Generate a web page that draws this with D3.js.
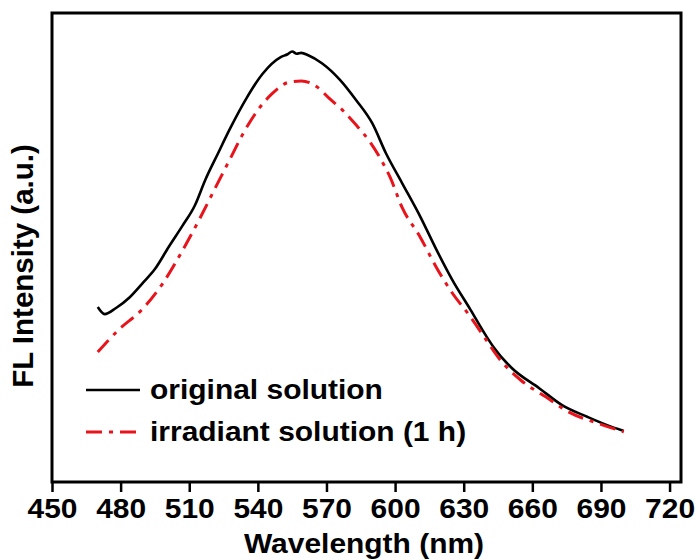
<!DOCTYPE html>
<html>
<head>
<meta charset="utf-8">
<script src="https://cdn.jsdelivr.net/npm/d3@7"></script>
<style>
  body { margin: 0; background: #fff; }
  svg text { font-family: "Liberation Sans", Arial, sans-serif; font-weight: bold; fill: #000; }
</style>
</head>
<body>
<svg id="chart" width="697" height="560"></svg>
<script>
// wavelength (nm) and FL intensity (a.u.)
const originalWl = [470, 473, 478, 484, 490, 495, 501, 507, 512.5, 517, 522.5, 528, 535, 542, 550, 553, 555, 557, 559, 562, 568, 576, 583, 590, 596, 603, 611, 618, 625, 633, 640, 643, 651, 663, 673, 684, 695, 700];
const originalFL = [37.3, 35.8, 37.1, 39.4, 42.6, 45.4, 50.1, 54.6, 59.0, 64.4, 70.0, 75.5, 81.8, 87.0, 90.6, 91.2, 91.8, 91.3, 91.5, 91.0, 89.3, 85.7, 81.4, 76.5, 70.1, 63.8, 56.6, 49.6, 43.1, 36.7, 31.0, 28.8, 24.3, 20.0, 16.4, 13.9, 11.7, 10.9];

const irradiantWl = [470, 479, 490, 498.5, 507, 514, 522, 528.6, 533, 540, 546, 554, 559, 566, 571, 577, 583, 589, 594, 598, 603, 611, 618, 625, 633, 639, 646, 655, 666, 676, 688, 700];
const irradiantFL = [27.7, 32.4, 37.1, 42.4, 49.3, 55.6, 63.3, 69.6, 73.8, 79.3, 82.7, 85.3, 85.5, 84.2, 81.9, 79.3, 76.1, 72.5, 68.6, 64.8, 58.6, 52.2, 45.8, 40.3, 35.2, 30.9, 26.0, 21.7, 18.1, 14.9, 12.6, 10.7];

const xTicks = [450, 480, 510, 540, 570, 600, 630, 660, 690, 720];
const legendLabels = ["original solution", "irradiant solution (1 h)"];

const svg = d3.select("#chart");
const margin = { top: 13, right: 16, bottom: 78, left: 52 };
const W = 697, H = 560;
const stretch = "scale(1.07,1)";

const x = d3.scaleLinear().domain([450, 725]).range([margin.left, W - margin.right]);
const y = d3.scaleLinear().domain([0, 100]).range([H - margin.bottom, margin.top]);

// bottom axis with ticks
const xAxis = svg.append("g")
  .attr("transform", `translate(0,${H - margin.bottom})`)
  .call(d3.axisBottom(x).tickValues(xTicks).tickSize(10).tickSizeOuter(0).tickFormat(d3.format("d")));
xAxis.select(".domain").remove();
xAxis.selectAll(".tick line").attr("stroke", "#000").attr("stroke-width", 2.5);
xAxis.selectAll(".tick text")
  .attr("y", 36).attr("dy", 0)
  .attr("transform", stretch)
  .style("font-size", "28px");

// frame
svg.append("rect")
  .attr("x", margin.left).attr("y", margin.top)
  .attr("width", W - margin.left - margin.right)
  .attr("height", H - margin.top - margin.bottom)
  .attr("fill", "none").attr("stroke", "#000").attr("stroke-width", 3);

const line = d3.line().curve(d3.curveMonotoneX);

svg.append("path")
  .attr("d", line(originalWl.map((w, i) => [x(w), y(originalFL[i])])))
  .attr("fill", "none").attr("stroke", "#000").attr("stroke-width", 2.6);

svg.append("path")
  .attr("d", line(irradiantWl.map((w, i) => [x(w), y(irradiantFL[i])])))
  .attr("fill", "none").attr("stroke", "#e8141c").attr("stroke-width", 3)
  .attr("stroke-dasharray", "16,7,4,7");

// axis titles
svg.append("text")
  .attr("transform", `translate(364,553) ${stretch}`)
  .attr("text-anchor", "middle")
  .style("font-size", "28px")
  .text("Wavelength (nm)");

svg.append("text")
  .attr("transform", "translate(33,266) rotate(-90)")
  .attr("text-anchor", "middle")
  .style("font-size", "29.5px")
  .text("FL Intensity (a.u.)");

// legend
const legend = svg.append("g");
const legendY = [390, 432];
legendLabels.forEach((label, i) => {
  legend.append("line")
    .attr("x1", 86).attr("x2", 140)
    .attr("y1", legendY[i]).attr("y2", legendY[i])
    .attr("stroke", i === 0 ? "#000" : "#e8141c")
    .attr("stroke-width", i === 0 ? 2.6 : 3)
    .attr("stroke-dasharray", i === 0 ? null : "16,7,4,7");
  legend.append("text")
    .attr("transform", `translate(150,${legendY[i] + 9}) ${stretch}`)
    .style("font-size", "28px")
    .text(label);
});
</script>
</body>
</html>
